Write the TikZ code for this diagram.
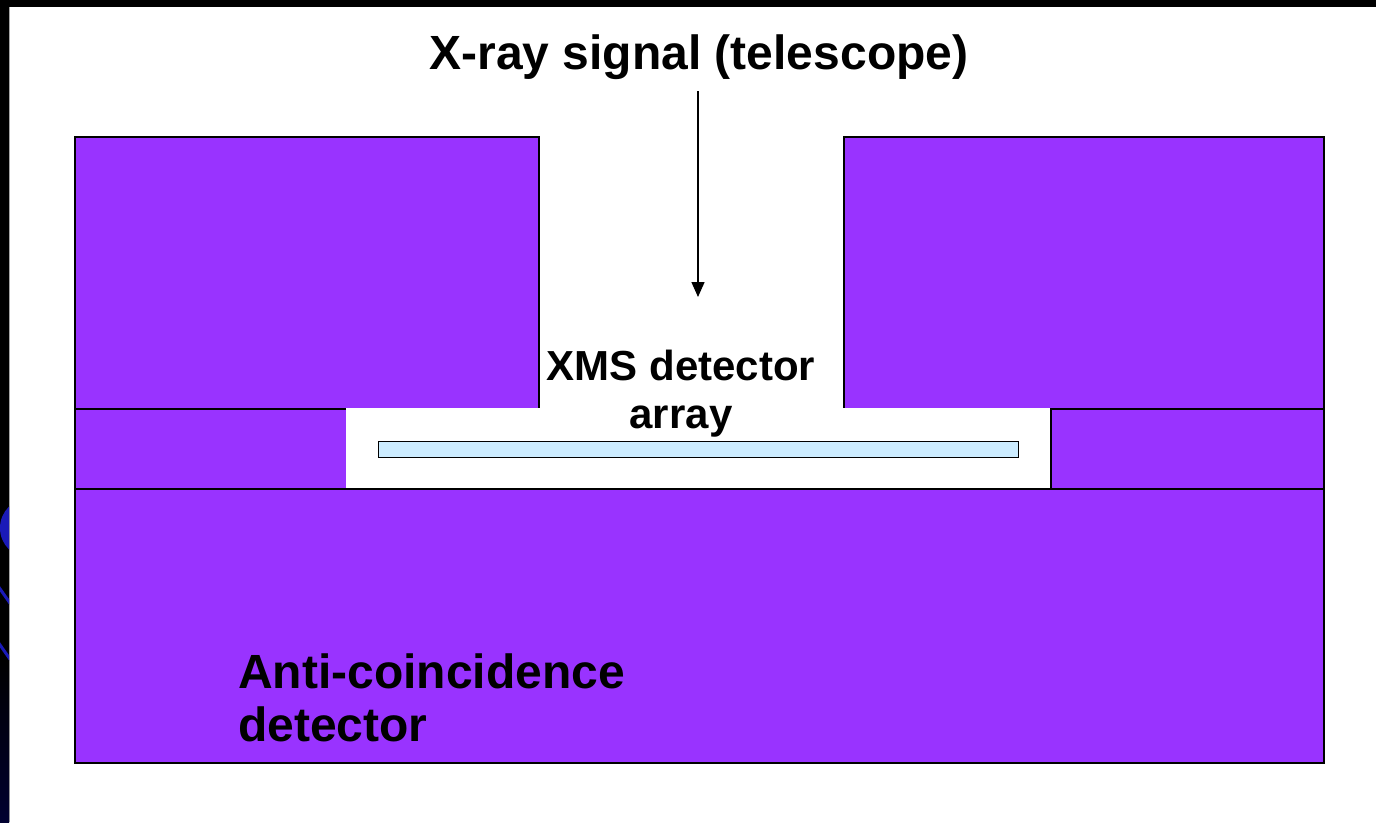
\documentclass[tikz,border=0pt]{standalone}
\usepackage{fontspec}
\setmainfont{Liberation Sans}
\usetikzlibrary{arrows.meta}
\definecolor{shieldpurple}{HTML}{9933FF}
\definecolor{arrayblue}{HTML}{CCECFF}
\definecolor{slideblue}{HTML}{1A1AB8}
\definecolor{slidenavy}{HTML}{000030}
\tikzset{
  block/.style={draw=black, line width=1.6pt, fill=shieldpurple, inner sep=0pt, anchor=north west},
  cavity/.style={draw=none, fill=white, inner sep=0pt, anchor=north west},
  sensor/.style={draw=black, line width=1.4pt, fill=arrayblue, inner sep=0pt, anchor=north west},
  label/.style={font=\bfseries\fontsize{#1}{#1}\selectfont, inner sep=0pt, text=black},
  ray/.style={line width=1.5pt, -{Triangle[width=13pt,length=15pt]}}
}
\begin{document}
\begin{tikzpicture}[x=1pt,y=-1pt]
\useasboundingbox (0,0) rectangle (1376,822);
% slide background and frame
\fill[white] (0,0) rectangle (1376,822);
\fill[black] (0,0) rectangle (1376,7);
\fill[black] (0,0) rectangle (9,822);
\draw[gray!70, line width=0.8pt] (9.4,7) -- (9.4,822);
\begin{scope}
  \clip (0,7) rectangle (9,822);
  \shade[top color=black, bottom color=slidenavy] (0,660) rectangle (9,822);
  \fill[slideblue] (30,528) ellipse (30 and 30);
  \draw[slideblue, line width=3pt] (-2,586) -- (12,606);
  \draw[slideblue, line width=3pt] (-2,642) -- (12,662);
\end{scope}
% shielding blocks
\node[block, minimum width=464pt, minimum height=272pt] (topleft) at (74,136) {};
\node[block, minimum width=480pt, minimum height=272pt] (topright) at (843,136) {};
\node[block, minimum width=272pt, minimum height=80pt] (midleft) at (74,408) {};
\node[block, minimum width=273pt, minimum height=80pt] (midright) at (1050,408) {};
\node[cavity, minimum width=704pt, minimum height=80pt] (cavity) at (346,408) {};
\node[block, minimum width=1249pt, minimum height=274pt] (anti) at (74,488) {};
% detector array
\node[sensor, minimum width=640pt, minimum height=16pt] (array) at (378,441) {};
% labels
\node[label=48, anchor=base] (title) at (699,69) {X-ray signal (telescope)};
\node[label=42, anchor=base] (xms1) at (681,380) {XMS detector};
\node[label=42, anchor=base] (xms2) at (681,428) {array};
\node[label=48, anchor=base west] (acd1) at (238,688) {Anti-coincidence};
\node[label=48, anchor=base west] (acd2) at (238,741) {detector};
% incoming X-rays
\coordinate (rayend) at (698,297);
\draw[ray] (title.south -| rayend) ++(0,12) -- (rayend);
\end{tikzpicture}
\end{document}
